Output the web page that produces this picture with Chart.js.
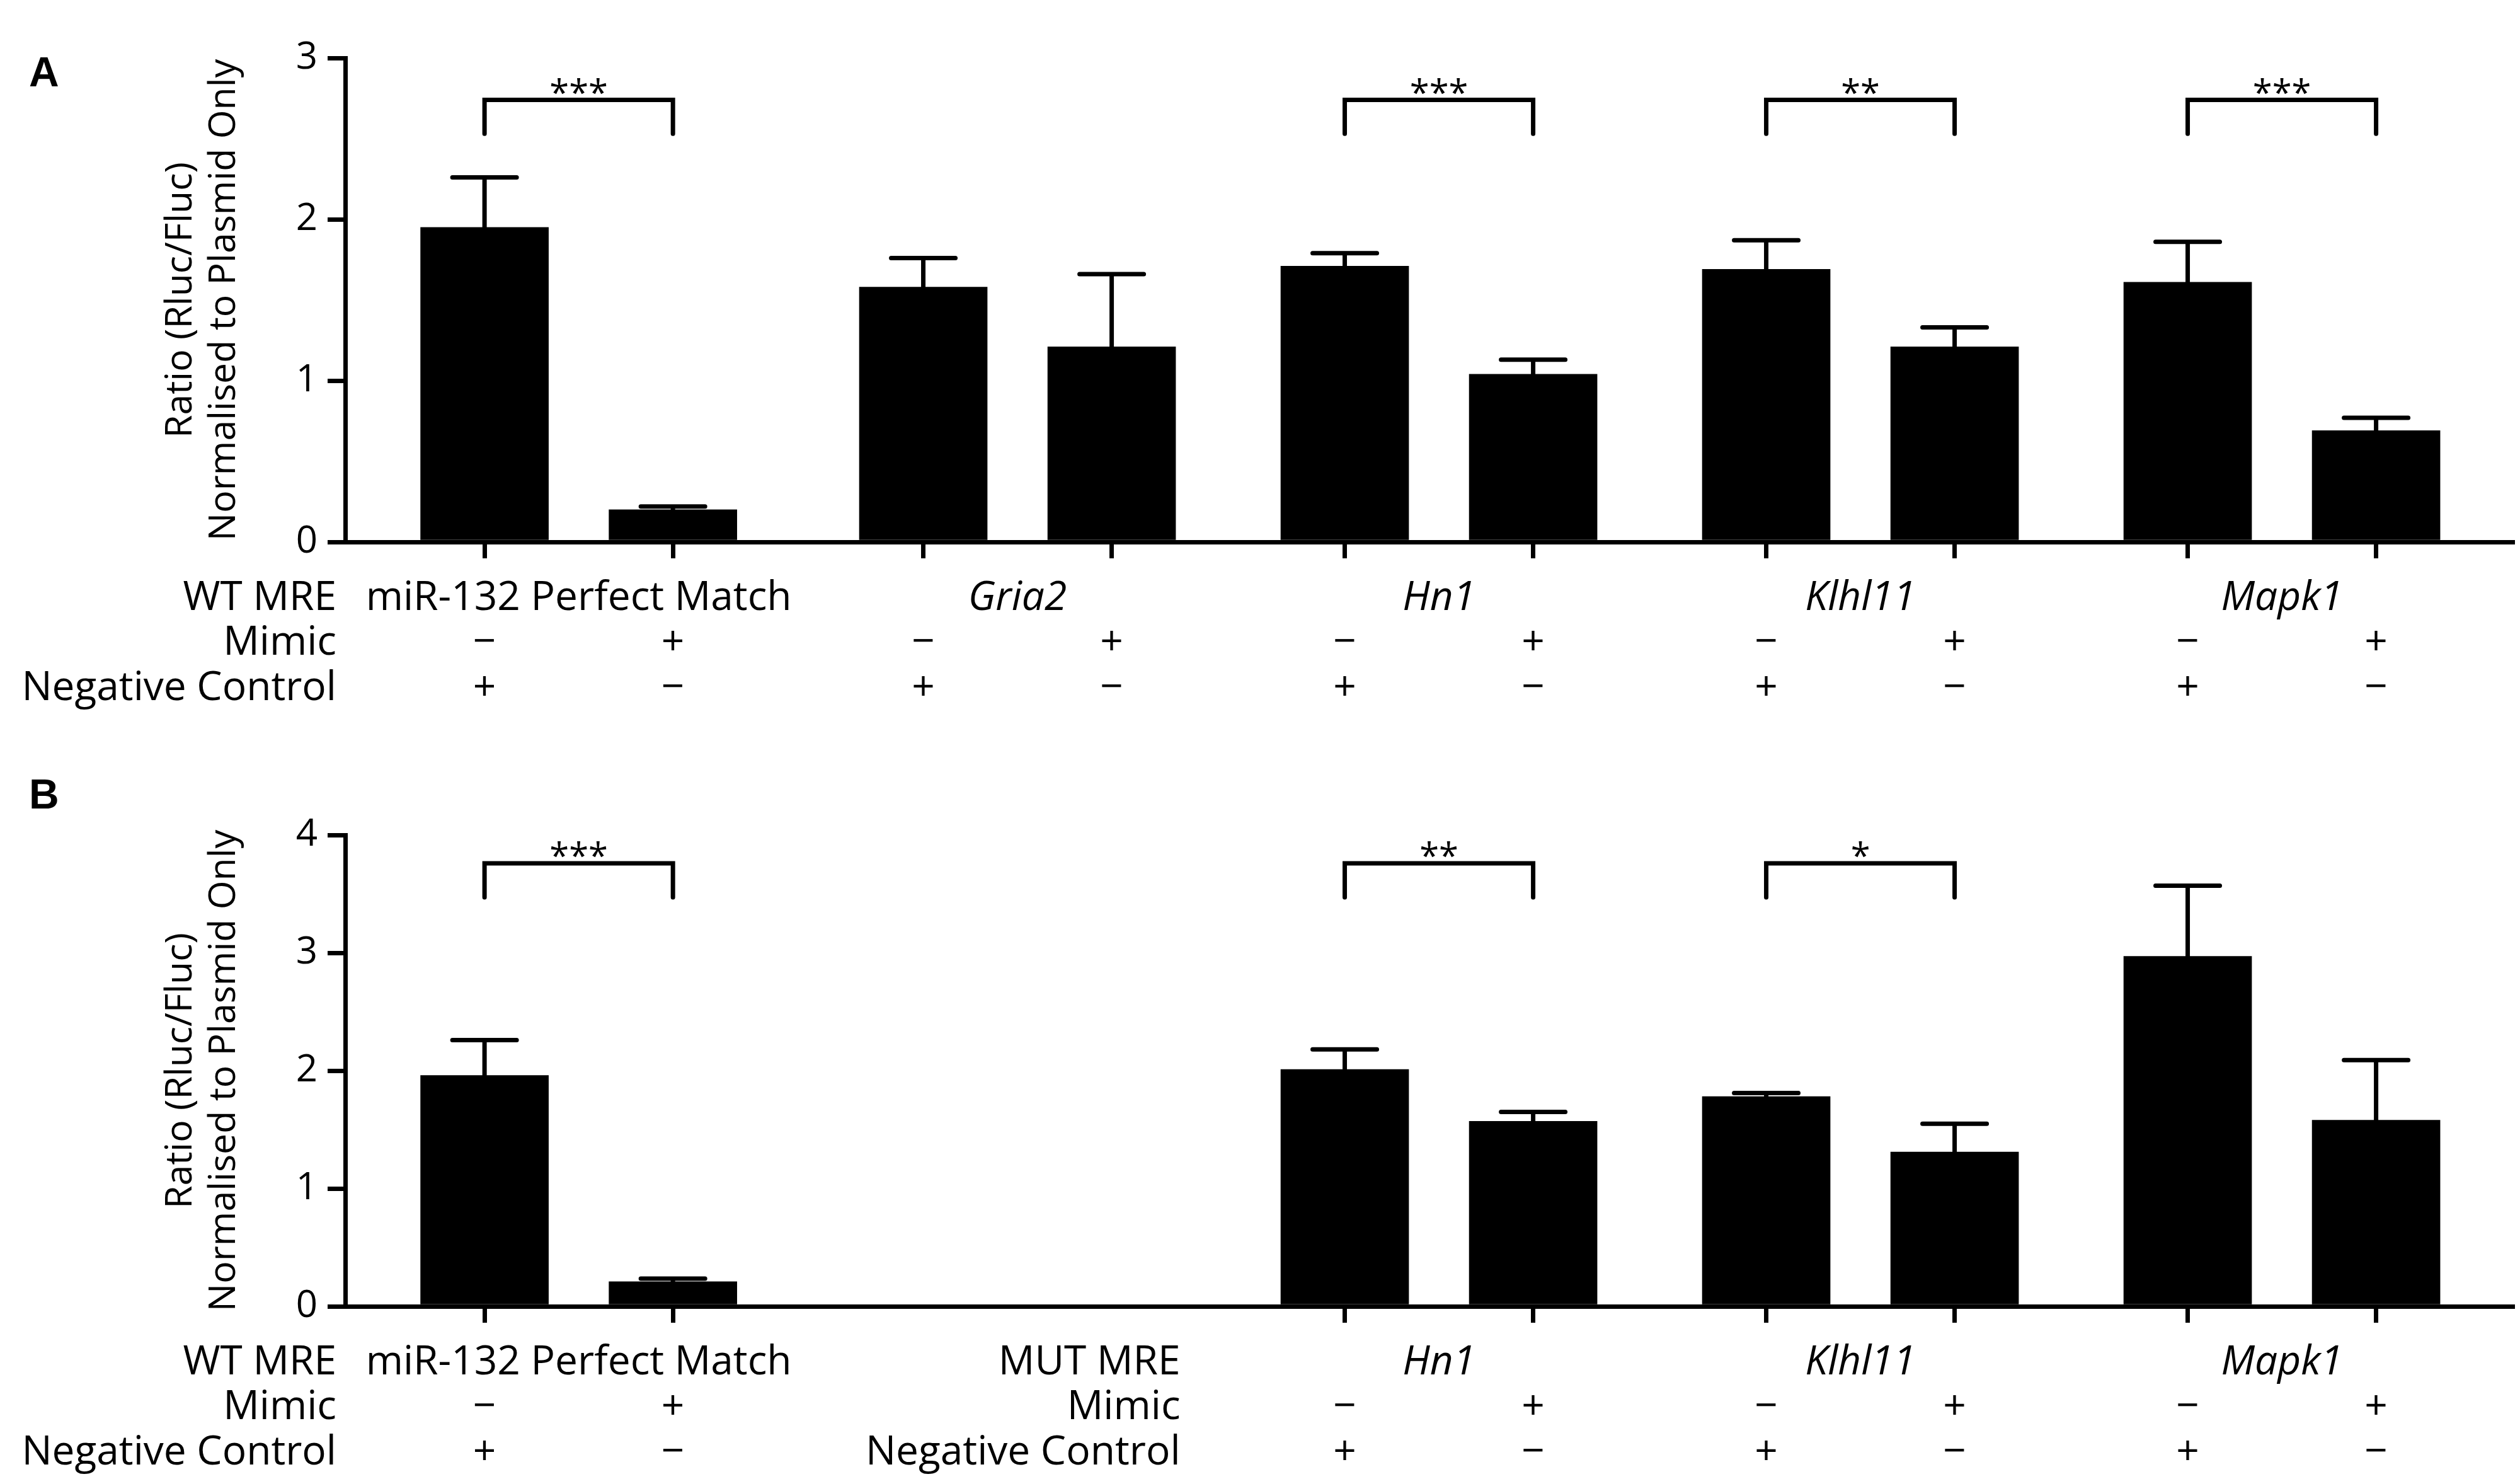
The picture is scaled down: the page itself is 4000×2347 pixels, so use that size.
<!DOCTYPE html>
<html>
<head>
<meta charset="utf-8">
<script src="https://cdn.jsdelivr.net/npm/chart.js@4"></script>
<style>
  body { margin: 0; background: #fff; width: 4000px; height: 2347px; position: relative; overflow: hidden; }
  canvas { position: absolute; left: 0; }
  .panel { position: absolute; left: 46px; font: bold 66px "Liberation Sans", Arial, sans-serif; color: #000; }
</style>
</head>
<body>
<div class="panel" style="top:76px">A</div>
<div class="panel" style="top:1222px">B</div>
<canvas id="chartA" width="4000" height="1175" style="top:0"></canvas>
<canvas id="chartB" width="4000" height="1172" style="top:1175px"></canvas>
<script>
// groups, each has two bars: (Mimic −, Neg +) then (Mimic +, Neg −)
const genes = ['miR-132 Perfect Match', 'Gria2', 'Hn1', 'Klhl11', 'Mapk1'];
const geneItalic = [false, true, true, true, true];

const valuesA = [1.95, 0.20, 1.58, 1.21, 1.71, 1.04, 1.69, 1.21, 1.61, 0.69];
const errTopA = [2.26, 0.22, 1.76, 1.66, 1.79, 1.13, 1.87, 1.33, 1.86, 0.77];
const starsA = ['***', '', '***', '**', '***'];
const bracketA = [2.53, 2.74];

const valuesB = [1.96, 0.21, null, null, 2.01, 1.57, 1.78, 1.31, 2.97, 1.58];
const errTopB = [2.26, 0.235, null, null, 2.18, 1.65, 1.81, 1.55, 3.57, 2.09];
const starsB = ['***', '', '**', '*', ''];
const bracketB = [3.47, 3.76];

const mimicSigns = ['\u2212', '+'];
const negSigns = ['+', '\u2212'];
const rowLabelsWT = ['WT MRE', 'Mimic', 'Negative Control'];
const rowLabelsMUT = ['MUT MRE', 'Mimic', 'Negative Control'];
const yTitle = ['Ratio (Rluc/Fluc)', 'Normalised to Plasmid Only'];

// x layout: one unit per group, a little extra room after the first group
const HALF_PAIR = 0.2235;
const FIRST_GAP = 0.041;
const X_MIN = -0.554, X_MAX = 4.588;
const FONT = '"Open Sans", "DejaVu Sans", sans-serif';
const ROW_OFFSETS = [90, 161, 233];

function groupX(g) {
  return g + (g > 0 ? FIRST_GAP : 0);
}
function barX(i) {
  return groupX(Math.floor(i / 2)) + (i % 2 ? HALF_PAIR : -HALF_PAIR);
}

function overlay(values, errTop, stars, bracket, mutFrom) {
  return {
    id: 'overlay',
    afterDraw(chart) {
      const { ctx, scales: { x, y }, chartArea } = chart;
      ctx.save();
      ctx.strokeStyle = '#000';
      ctx.fillStyle = '#000';
      ctx.lineWidth = 7;
      ctx.lineCap = 'round';

      // error bars (upper only)
      values.forEach((v, i) => {
        if (v == null) return;
        const px = x.getPixelForValue(barX(i));
        const y0 = y.getPixelForValue(v);
        const y1 = y.getPixelForValue(errTop[i]);
        ctx.beginPath();
        ctx.moveTo(px, y0);
        ctx.lineTo(px, y1);
        ctx.moveTo(px - 51, y1);
        ctx.lineTo(px + 51, y1);
        ctx.stroke();
      });

      // significance brackets
      stars.forEach((s, g) => {
        if (!s) return;
        const xl = x.getPixelForValue(barX(g * 2));
        const xr = x.getPixelForValue(barX(g * 2 + 1));
        const yb = y.getPixelForValue(bracket[0]);
        const yt = y.getPixelForValue(bracket[1]);
        ctx.beginPath();
        ctx.moveTo(xl, yb);
        ctx.lineTo(xl, yt);
        ctx.lineTo(xr, yt);
        ctx.lineTo(xr, yb);
        ctx.stroke();
        ctx.font = '56px ' + FONT;
        ctx.textAlign = 'center';
        ctx.textBaseline = 'alphabetic';
        ctx.fillText(s, (xl + xr) / 2, yt + 8);
      });

      // table under the axis
      const rowY = ROW_OFFSETS.map(o => chartArea.bottom + o);
      ctx.textBaseline = 'middle';
      genes.forEach((gName, g) => {
        if (values[g * 2] == null) return;
        ctx.textAlign = 'center';
        ctx.font = (geneItalic[g] ? 'italic ' : '') + '64px ' + FONT;
        ctx.fillText(gName, x.getPixelForValue(groupX(g)), rowY[0]);
        ctx.font = '64px ' + FONT;
        [0, 1].forEach(k => {
          const px = x.getPixelForValue(barX(g * 2 + k));
          ctx.fillText(mimicSigns[k], px, rowY[1]);
          ctx.fillText(negSigns[k], px, rowY[2]);
        });
      });

      ctx.font = '64px ' + FONT;
      ctx.textAlign = 'right';
      rowLabelsWT.forEach((t, r) => ctx.fillText(t, chartArea.left - 14, rowY[r]));
      if (mutFrom != null) {
        const lx = x.getPixelForValue(barX(mutFrom * 2)) - 261;
        rowLabelsMUT.forEach((t, r) => ctx.fillText(t, lx, rowY[r]));
      }
      ctx.restore();
    }
  };
}

function makeChart(id, values, errTop, stars, bracket, yMax, topPad, xHeight, mutFrom) {
  const points = [];
  values.forEach((v, i) => { if (v != null) points.push({ x: barX(i), y: v }); });
  const tickXs = points.map(p => p.x);

  return new Chart(document.getElementById(id), {
    type: 'bar',
    data: {
      datasets: [{
        data: points,
        backgroundColor: '#000',
        borderWidth: 0,
        barThickness: 203
      }]
    },
    options: {
      responsive: false,
      animation: false,
      devicePixelRatio: 1,
      layout: { padding: { left: 0, top: topPad, right: 12, bottom: 0 } },
      plugins: { legend: { display: false }, tooltip: { enabled: false } },
      scales: {
        x: {
          type: 'linear',
          min: X_MIN,
          max: X_MAX,
          offset: false,
          afterBuildTicks: s => { s.ticks = tickXs.map(v => ({ value: v })); },
          afterFit: s => { s.height = xHeight; },
          ticks: { display: false, autoSkip: false },
          grid: { offset: false, drawOnChartArea: false, drawTicks: true, tickLength: 26, color: '#000', lineWidth: 7 },
          border: { display: true, color: '#000', width: 7 }
        },
        y: {
          min: 0,
          max: yMax,
          afterFit: s => { s.width = 548; },
          ticks: { stepSize: 1, color: '#000', padding: 16, font: { family: FONT, size: 60 } },
          grid: { drawOnChartArea: false, drawTicks: true, tickLength: 28, color: '#000', lineWidth: 7 },
          border: { display: true, color: '#000', width: 7 },
          title: {
            display: true,
            text: yTitle,
            color: '#000',
            padding: { top: 252, bottom: 0 },
            font: { family: FONT, size: 59, lineHeight: 1.18 }
          }
        }
      }
    },
    plugins: [overlay(values, errTop, stars, bracket, mutFrom)]
  });
}

makeChart('chartA', valuesA, errTopA, starsA, bracketA, 3, 92, 315, null);
makeChart('chartB', valuesB, errTopB, starsB, bracketB, 4, 150, 274, 2);
</script>
</body>
</html>
